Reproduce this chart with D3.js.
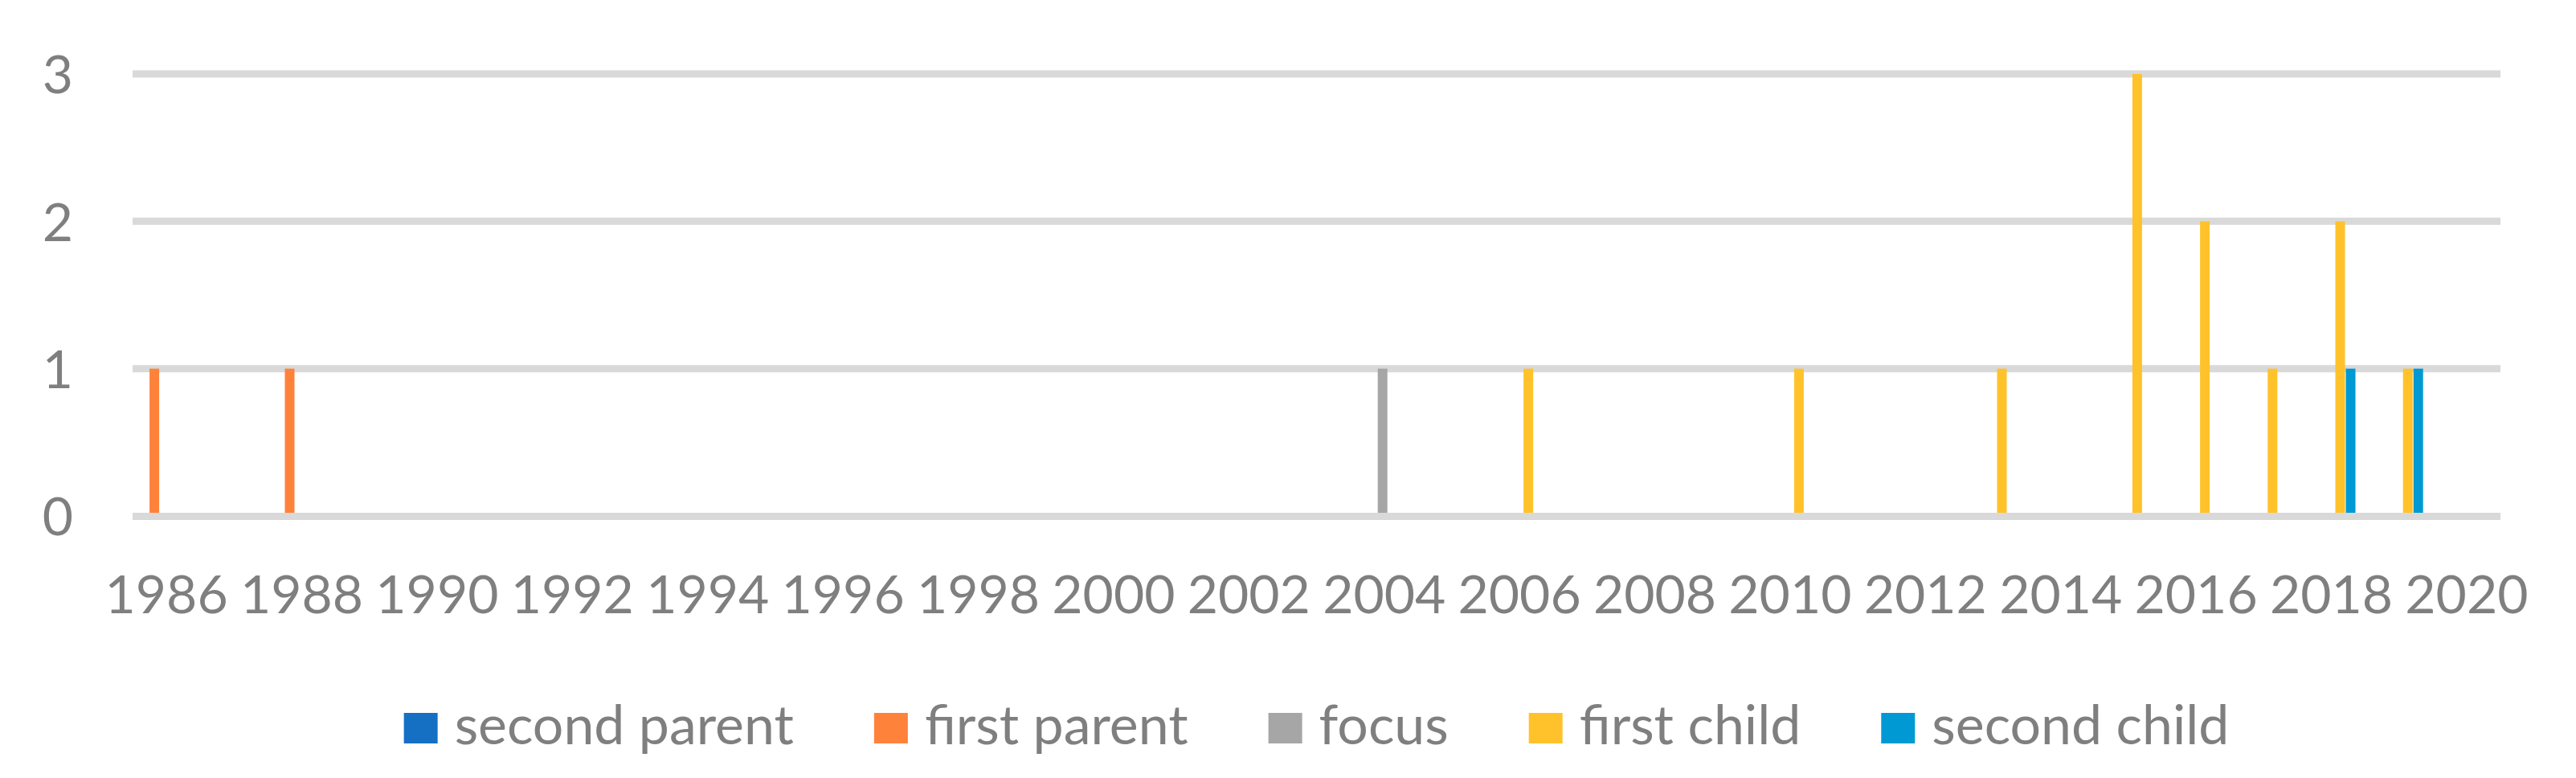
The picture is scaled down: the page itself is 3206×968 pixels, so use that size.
<!DOCTYPE html>
<html>
<head>
<meta charset="utf-8">
<script src="https://d3js.org/d3.v7.min.js"></script>
<style>
  body { margin: 0; background: #fff; }
  text { font-family: "Lato", "Liberation Sans", sans-serif; fill: #7f7f7f; }
</style>
</head>
<body>
<div id="chart"></div>
<script>
var years = ["1986","1987","1988","1989","1990","1991","1992","1993","1994","1995",
             "1996","1997","1998","1999","2000","2001","2002","2003","2004","2005",
             "2006","2007","2008","2009","2010","2011","2012","2013","2014","2015",
             "2016","2017","2018","2019","2020"];

var tickLabels = ["1986","1988","1990","1992","1994","1996","1998","2000","2002",
                  "2004","2006","2008","2010","2012","2014","2016","2018","2020"];

var yTicks = [0, 1, 2, 3];

var seriesNames = ["second parent", "first parent", "focus", "first child", "second child"];
var seriesColors = ["#1570c3", "#ff823b", "#a6a6a6", "#ffc22a", "#0099d3"];

//                   86 87 88 89 90 91 92 93 94 95 96 97 98 99 00 01 02 03 04 05 06 07 08 09 10 11 12 13 14 15 16 17 18 19 20
var secondParent = [ 0, 0, 0, 0, 0, 0, 0, 0, 0, 0, 0, 0, 0, 0, 0, 0, 0, 0, 0, 0, 0, 0, 0, 0, 0, 0, 0, 0, 0, 0, 0, 0, 0, 0, 0];
var firstParent  = [ 1, 0, 1, 0, 0, 0, 0, 0, 0, 0, 0, 0, 0, 0, 0, 0, 0, 0, 0, 0, 0, 0, 0, 0, 0, 0, 0, 0, 0, 0, 0, 0, 0, 0, 0];
var focusSeries  = [ 0, 0, 0, 0, 0, 0, 0, 0, 0, 0, 0, 0, 0, 0, 0, 0, 0, 0, 1, 0, 0, 0, 0, 0, 0, 0, 0, 0, 0, 0, 0, 0, 0, 0, 0];
var firstChild   = [ 0, 0, 0, 0, 0, 0, 0, 0, 0, 0, 0, 0, 0, 0, 0, 0, 0, 0, 0, 0, 1, 0, 0, 0, 1, 0, 0, 1, 0, 3, 2, 1, 2, 1, 0];
var secondChild  = [ 0, 0, 0, 0, 0, 0, 0, 0, 0, 0, 0, 0, 0, 0, 0, 0, 0, 0, 0, 0, 0, 0, 0, 0, 0, 0, 0, 0, 0, 0, 0, 0, 1, 1, 0];

var seriesValues = [secondParent, firstParent, focusSeries, firstChild, secondChild];

var W = 3206, H = 968,
    plotLeft = 165, plotRight = 3112, plotTop = 92, plotBottom = 642;

var svg = d3.select("#chart").append("svg")
    .attr("width", W)
    .attr("height", H);

var x0 = d3.scaleBand()
    .domain(years)
    .range([plotLeft, plotRight])
    .paddingInner(0.228)
    .paddingOuter(0.114);

var x1 = d3.scaleBand()
    .domain(seriesNames)
    .range([0, x0.bandwidth()]);

var y = d3.scaleLinear()
    .domain([0, 3])
    .range([plotBottom, plotTop]);

var z = d3.scaleOrdinal()
    .domain(seriesNames)
    .range(seriesColors);

// gridlines (0 line drawn later, over the bars)
svg.append("g")
  .selectAll("line")
  .data(yTicks.filter(function(d) { return d > 0; }))
  .enter().append("line")
    .attr("x1", plotLeft)
    .attr("x2", plotRight)
    .attr("y1", function(d) { return y(d); })
    .attr("y2", function(d) { return y(d); })
    .attr("stroke", "#d9d9d9")
    .attr("stroke-width", 9);

var rows = [];
years.forEach(function(yr, i) {
  seriesNames.forEach(function(name, k) {
    if (seriesValues[k][i] > 0) rows.push({year: yr, key: name, value: seriesValues[k][i]});
  });
});

var barW = x1.bandwidth() - 1;

svg.append("g")
  .selectAll("rect")
  .data(rows)
  .enter().append("rect")
    .attr("x", function(d) { return x0(d.year) + x1(d.key) + (x1.bandwidth() - barW) / 2 - 2; })
    .attr("y", function(d) { return y(d.value); })
    .attr("width", barW)
    .attr("height", function(d) { return y(0) - y(d.value); })
    .attr("fill", function(d) { return z(d.key); });

svg.append("line")
    .attr("x1", plotLeft)
    .attr("x2", plotRight)
    .attr("y1", y(0) + 0.5)
    .attr("y2", y(0) + 0.5)
    .attr("stroke", "#d9d9d9")
    .attr("stroke-width", 9);

// y axis labels
var yAxis = svg.append("g")
    .attr("transform", "translate(" + plotLeft + ",0)")
    .call(d3.axisLeft(y).tickValues(yTicks).tickSize(0).tickPadding(74).tickFormat(d3.format("d")));
yAxis.select(".domain").remove();
yAxis.selectAll("text")
    .attr("font-size", 66)
    .attr("font-family", null)
    .attr("fill", "#7f7f7f")
    .attr("dy", "0.36em");

// x axis labels
var xAxis = svg.append("g")
    .attr("transform", "translate(0," + plotBottom + ")")
    .call(d3.axisBottom(x0).tickValues(tickLabels).tickSize(0).tickPadding(74));
xAxis.select(".domain").remove();
xAxis.selectAll("text")
    .attr("font-size", 66)
    .attr("font-family", null)
    .attr("fill", "#7f7f7f")
    .attr("dy", "0.71em");

// legend
var legend = svg.append("g");
var items = legend.selectAll("g")
    .data(seriesNames)
    .enter().append("g");

items.append("rect")
    .attr("y", 887)
    .attr("width", 42)
    .attr("height", 38)
    .attr("fill", z);

items.append("text")
    .attr("x", 63)
    .attr("y", 926)
    .attr("font-size", 68)
    .text(function(d) { return d; });

var gap = 100, offset = 0, widths = [];
items.each(function(d) {
  var w = 63 + d3.select(this).select("text").node().getComputedTextLength();
  widths.push(w);
});
var total = d3.sum(widths) + gap * (widths.length - 1);
var start = (plotLeft + plotRight) / 2 - total / 2;
items.attr("transform", function(d, i) {
  var t = "translate(" + (start + offset) + ",0)";
  offset += widths[i] + gap;
  return t;
});
</script>
</body>
</html>
